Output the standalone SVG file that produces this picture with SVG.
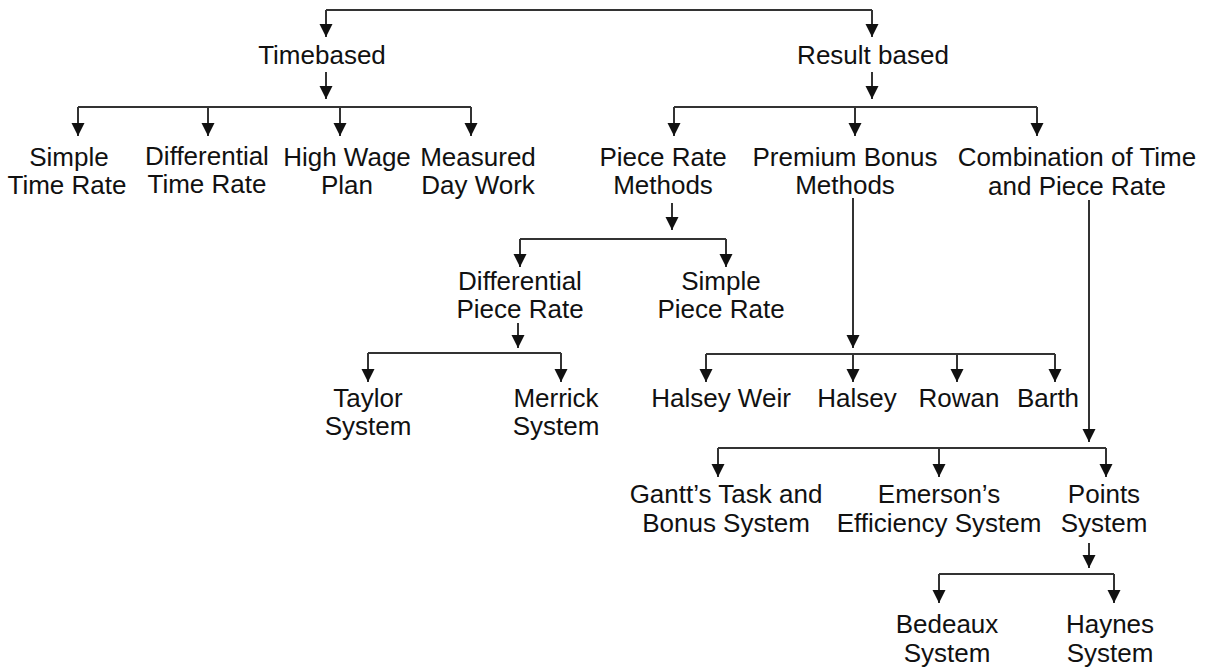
<svg xmlns="http://www.w3.org/2000/svg" width="1209" height="669" viewBox="0 0 1209 669">
<style>
text{font-family:"Liberation Sans",Arial,sans-serif;font-size:26px;fill:#111;text-anchor:middle}
.c path{fill:none;stroke:#333;stroke-width:2}
.c path.a{marker-end:url(#ah)}
</style>
<defs>
<marker id="ah" markerUnits="userSpaceOnUse" markerWidth="14" markerHeight="14" viewBox="0 0 14 14" refX="13" refY="7" orient="auto">
<path d="M0,0.5 L13,7 L0,13.5 z" fill="#111"/>
</marker>
</defs>
<rect width="1209" height="669" fill="#fff"/>
<g class="c" id="connectors">
<path d="M326,10 H872"/>
<path class="a" d="M326,10 V37"/>
<path class="a" d="M872,10 V37"/>
<path class="a" d="M326,72 V99"/>
<path d="M78,107 H471"/>
<path class="a" d="M78,107 V136"/>
<path class="a" d="M208,107 V136"/>
<path class="a" d="M340,107 V136"/>
<path class="a" d="M471,107 V136"/>
<path class="a" d="M872,72 V99"/>
<path d="M674,107 H1037"/>
<path class="a" d="M674,107 V136"/>
<path class="a" d="M855,107 V136"/>
<path class="a" d="M1037,107 V136"/>
<path class="a" d="M672,203 V230"/>
<path d="M520,239 H726"/>
<path class="a" d="M520,239 V267"/>
<path class="a" d="M726,239 V267"/>
<path class="a" d="M518,323 V348"/>
<path d="M368,353 H561"/>
<path class="a" d="M368,353 V382"/>
<path class="a" d="M561,353 V382"/>
<path class="a" d="M853,198 V348"/>
<path d="M706,354 H1055"/>
<path class="a" d="M706,354 V382"/>
<path class="a" d="M853,354 V382"/>
<path class="a" d="M957,354 V382"/>
<path class="a" d="M1055,354 V382"/>
<path class="a" d="M1089,200 V442"/>
<path d="M718,448 H1106"/>
<path class="a" d="M718,448 V477"/>
<path class="a" d="M939,448 V477"/>
<path class="a" d="M1106,448 V477"/>
<path class="a" d="M1089,543 V568"/>
<path d="M939,574 H1114"/>
<path class="a" d="M939,574 V603"/>
<path class="a" d="M1114,574 V603"/>
</g>
<g id="timebased"><text x="322" y="64">Timebased</text></g>
<g id="resultbased"><text x="873" y="64">Result based</text></g>
<g id="simpletime"><text x="69" y="166">Simple</text><text x="67" y="194">Time Rate</text></g>
<g id="difftime"><text x="207" y="165">Differential</text><text x="207" y="193">Time Rate</text></g>
<g id="highwage"><text x="347" y="166">High Wage</text><text x="347" y="194">Plan</text></g>
<g id="measured"><text x="478" y="166">Measured</text><text x="478" y="194">Day Work</text></g>
<g id="piecerate"><text x="663" y="166">Piece Rate</text><text x="663" y="194">Methods</text></g>
<g id="premium"><text x="845" y="166">Premium Bonus</text><text x="845" y="194">Methods</text></g>
<g id="combination"><text x="1077" y="166">Combination of Time</text><text x="1077" y="195">and Piece Rate</text></g>
<g id="diffpiece"><text x="520" y="290">Differential</text><text x="520" y="318">Piece Rate</text></g>
<g id="simplepiece"><text x="721" y="290">Simple</text><text x="721" y="318">Piece Rate</text></g>
<g id="taylor"><text x="368" y="407">Taylor</text><text x="368" y="435">System</text></g>
<g id="merrick"><text x="556" y="407">Merrick</text><text x="556" y="435">System</text></g>
<g id="halseyweir"><text x="721" y="407">Halsey Weir</text></g>
<g id="halsey"><text x="857" y="407">Halsey</text></g>
<g id="rowan"><text x="959" y="407">Rowan</text></g>
<g id="barth"><text x="1048" y="407">Barth</text></g>
<g id="gantt"><text x="726" y="503">Gantt’s Task and</text><text x="726" y="532">Bonus System</text></g>
<g id="emerson"><text x="939" y="503">Emerson’s</text><text x="939" y="532">Efficiency System</text></g>
<g id="points"><text x="1104" y="503">Points</text><text x="1104" y="532">System</text></g>
<g id="bedeaux"><text x="947" y="633">Bedeaux</text><text x="947" y="662">System</text></g>
<g id="haynes"><text x="1110" y="633">Haynes</text><text x="1110" y="662">System</text></g>
</svg>
